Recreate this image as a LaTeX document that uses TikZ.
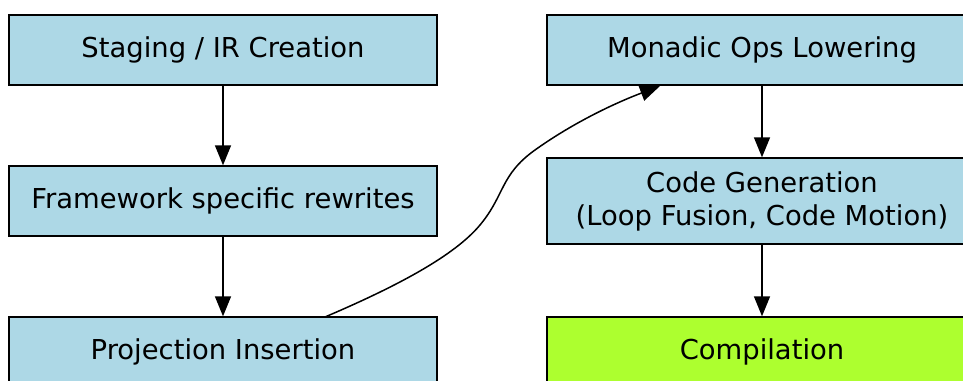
\documentclass[tikz,border=0pt]{standalone}
\usepackage{fontspec}
\setmainfont{DejaVu Sans}
\usetikzlibrary{arrows.meta}
\definecolor{lblue}{HTML}{ADD8E6}
\definecolor{lgreen}{HTML}{ADFF2F}
\begin{document}
\begin{tikzpicture}[x=1pt,y=-1pt,
  box/.style={draw=black,line width=1.4pt,fill=lblue,minimum width=428pt,minimum height=70pt,inner sep=0pt,align=center,font=\fontsize{27.4}{33}\selectfont},
  arr/.style={line width=1.5pt,-{Triangle[length=20pt,width=16pt]}}]
\useasboundingbox (0,0) rectangle (963,380);
\node[box] (stage) at (223,50) {Staging / IR Creation};
\node[box] (frame) at (223,201) {Framework specific rewrites};
\node[box] (proj) at (223,352) {Projection Insertion};
\node[box,minimum width=430pt] (mono) at (762,50) {Monadic Ops Lowering};
\node[box,minimum width=430pt,minimum height=86pt] (code) at (762,201) {Code Generation\\(Loop Fusion, Code Motion)};
\node[box,minimum width=430pt,fill=lgreen] (comp) at (762,352) {Compilation};
\draw[arr] (stage) -- (frame);
\draw[arr] (frame) -- (proj);
\draw[arr] (mono) -- (code);
\draw[arr] (code) -- (comp);
\coordinate (ps) at (325,317);
\coordinate (mt) at (660,86);
\draw[arr] (ps) .. controls (400,285) and (455,255) .. (480,225) .. controls (505,195) and (500,175) .. (535,150) .. controls (570,125) and (610,105) .. (mt);
\end{tikzpicture}
\end{document}
